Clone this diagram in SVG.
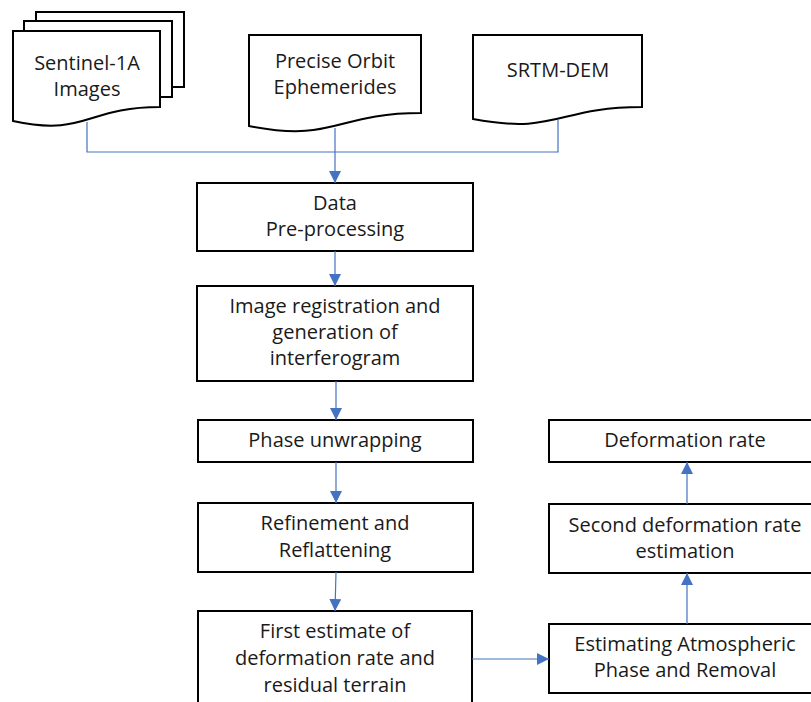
<svg xmlns="http://www.w3.org/2000/svg" width="811" height="702" viewBox="0 0 811 702">
  <style>
    .box { fill: #ffffff; stroke: #000000; stroke-width: 2; }
    .lbl { font-family: "Open Sans", "Noto Sans", "Liberation Sans", sans-serif; font-size: 20px; fill: #1a1a1a; text-anchor: middle; }
    .wire { fill: none; stroke: #4472C4; stroke-width: 1.2; }
  </style>
  <defs>
    <marker id="arrow" markerUnits="userSpaceOnUse" markerWidth="12" markerHeight="12" viewBox="0 0 12 12" refX="12" refY="6" orient="auto">
      <path d="M0,0 L12,6 L0,12 Z" fill="#4472C4"/>
    </marker>
  </defs>
  <rect width="811" height="702" fill="#ffffff"/>

  <!-- input data: stacked documents -->
  <g id="sentinel">
    <path class="box" d="M36,21 V12 H184 V87 H172"/>
    <path class="box" d="M24,31 V21 H172 V97 H160"/>
    <path class="box" d="M13,31 H160 V107 C86,107 86,137 13,121 Z"/>
    <text class="lbl" x="87" y="70">Sentinel-1A</text>
    <text class="lbl" x="87" y="96">Images</text>
  </g>

  <g id="orbit">
    <path class="box" d="M249,35 H421 V113 C335,113 335,143 249,126 Z"/>
    <text class="lbl" x="335" y="68">Precise Orbit</text>
    <text class="lbl" x="335" y="94">Ephemerides</text>
  </g>

  <g id="dem">
    <path class="box" d="M473,35 H642 V107 C557,107 557,135 473,119 Z"/>
    <text class="lbl" x="558" y="77">SRTM-DEM</text>
  </g>

  <!-- processing chain -->
  <g id="preprocessing">
    <rect class="box" x="197" y="183" width="276" height="68"/>
    <text class="lbl" x="335" y="210">Data</text>
    <text class="lbl" x="335" y="236">Pre-processing</text>
  </g>

  <g id="registration">
    <rect class="box" x="197" y="286" width="276" height="95"/>
    <text class="lbl" x="335" y="313">Image registration and</text>
    <text class="lbl" x="335" y="339">generation of</text>
    <text class="lbl" x="335" y="365">interferogram</text>
  </g>

  <g id="unwrapping">
    <rect class="box" x="198" y="420" width="275" height="42"/>
    <text class="lbl" x="335" y="447">Phase unwrapping</text>
  </g>

  <g id="refinement">
    <rect class="box" x="198" y="503" width="275" height="69"/>
    <text class="lbl" x="335" y="530">Refinement and</text>
    <text class="lbl" x="335" y="557">Reflattening</text>
  </g>

  <g id="first-estimate">
    <rect class="box" x="198" y="611" width="274" height="110"/>
    <text class="lbl" x="335" y="638">First estimate of</text>
    <text class="lbl" x="335" y="665">deformation rate and</text>
    <text class="lbl" x="335" y="692">residual terrain</text>
  </g>

  <g id="atmosphere">
    <rect class="box" x="549" y="624" width="273" height="69"/>
    <text class="lbl" x="685" y="651">Estimating Atmospheric</text>
    <text class="lbl" x="685" y="677">Phase and Removal</text>
  </g>

  <g id="second-estimate">
    <rect class="box" x="549" y="504" width="273" height="69"/>
    <text class="lbl" x="685" y="532">Second deformation rate</text>
    <text class="lbl" x="685" y="558">estimation</text>
  </g>

  <g id="deformation-rate">
    <rect class="box" x="549" y="420" width="273" height="42"/>
    <text class="lbl" x="685" y="447">Deformation rate</text>
  </g>

  <!-- connectors -->
  <g id="connectors">
    <polyline class="wire" points="87,122 87,152 558,152 558,120"/>
    <line class="wire" x1="335" y1="128" x2="335" y2="183" marker-end="url(#arrow)"/>
    <line class="wire" x1="335" y1="251" x2="335" y2="286" marker-end="url(#arrow)"/>
    <line class="wire" x1="336" y1="381" x2="336" y2="420" marker-end="url(#arrow)"/>
    <line class="wire" x1="336" y1="462" x2="336" y2="503" marker-end="url(#arrow)"/>
    <line class="wire" x1="336" y1="572" x2="335" y2="611" marker-end="url(#arrow)"/>
    <line class="wire" x1="472" y1="659" x2="549" y2="659" marker-end="url(#arrow)"/>
    <line class="wire" x1="687" y1="624" x2="687" y2="573" marker-end="url(#arrow)"/>
    <line class="wire" x1="687" y1="504" x2="687" y2="462" marker-end="url(#arrow)"/>
  </g>
</svg>
